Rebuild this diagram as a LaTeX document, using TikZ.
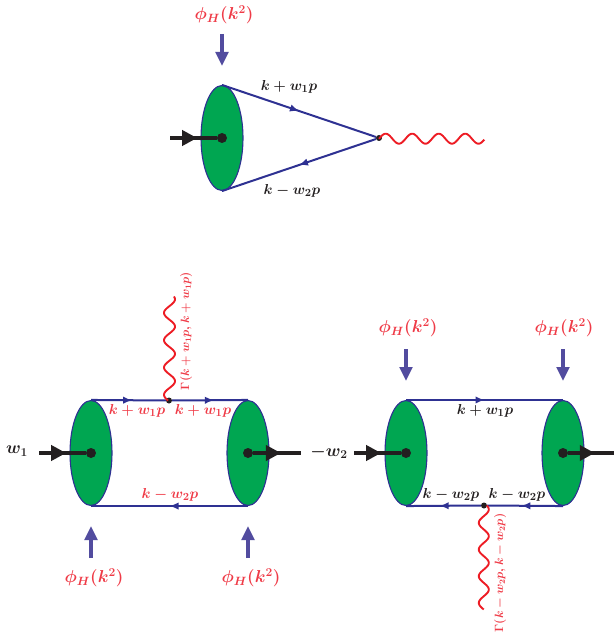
\documentclass[tikz,border=0pt]{standalone}
\usetikzlibrary{arrows.meta,decorations.markings,shapes.geometric}
\definecolor{dgreen}{HTML}{00A651}
\definecolor{dblue}{HTML}{2E3192}
\definecolor{dred}{HTML}{ED1C24}
\definecolor{tred}{HTML}{EF3B47}
\definecolor{dpurple}{HTML}{524C9F}
\definecolor{dblack}{HTML}{231F20}
\tikzset{
  blob/.style={ellipse,draw=dblue,line width=1.1pt,fill=dgreen,minimum width=42pt,minimum height=105pt,inner sep=0pt},
  fermion/.style={draw=dblue,line width=2pt},
  midtip/.style={postaction={decorate,decoration={markings,mark=at position #1 with {\arrow{Latex[length=9pt,width=7.5pt,color=dblue]}}}}},
  photon/.style={draw=dred,line width=1.9pt,line join=round},
  inflow/.style={draw=dblack,line width=4.6pt},
  blacktip/.style={postaction={decorate,decoration={markings,mark=at position #1 with {\arrow{Triangle[length=15pt,width=15pt,color=dblack]}}}}},
  phiarrow/.style={draw=dpurple,line width=4.2pt,-{Triangle[length=14pt,width=12.5pt,color=dpurple]}},
  dotb/.style={circle,fill=dblack,minimum size=10pt,inner sep=0pt},
  dots/.style={circle,fill=dblack,minimum size=6pt,inner sep=0pt},
  redtxt/.style={text=tred,font=\fontsize{15}{17}\selectfont\boldmath,inner sep=0pt},
  blktxt/.style={text=dblack,font=\fontsize{15}{17}\selectfont\boldmath,inner sep=0pt},
  phitxt/.style={text=tred,font=\fontsize{18}{20}\selectfont\boldmath,inner sep=0pt},
  wtxt/.style={text=dblack,font=\fontsize{18}{20}\selectfont\boldmath,inner sep=0pt},
  gamtxt/.style={text=tred,font=\fontsize{11.8}{13}\selectfont\boldmath,inner sep=0pt,rotate=90},
}
\begin{document}
\begin{tikzpicture}[x=1pt,y=-1pt]
\useasboundingbox (0,0) rectangle (614,639);
% top triangle
\node[blob] (e0) at (222,138) {};
\node[dots] (v0) at (379,138) {};
\node[dotb] (d0) at (222,138) {};
\coordinate (a0) at (170,138);
\draw[fermion,midtip=0.5] (e0.north) -- (v0);
\draw[fermion,midtip=0.5] (v0) -- (e0.south);
\draw[photon,shift={(v0)}] plot[domain=0:105.3,samples=110] ({\x},{0.7-5*cos(13.585*(\x-6.7))});
\draw[inflow,blacktip=0.58] (a0) -- (d0);
\coordinate (p0s) at (222,34);
\coordinate (p0e) at (222,66);
\draw[phiarrow] (p0s) -- (p0e);
\node[phitxt] (l0) at (224,15) {$\phi_H(k^2)$};
\node[blktxt] (l1) at (289,87) {$k+w_1p$};
\node[blktxt] (l2) at (292,190.5) {$k-w_2p$};
% bottom left
\node[blob] (e1) at (91,453) {};
\node[blob] (e2) at (248,453) {};
\node[dots] (v1) at (169,400.5) {};
\node[dotb] (d1) at (91,453) {};
\node[dotb] (d2) at (248,453) {};
\coordinate (a1) at (39,453);
\coordinate (a2) at (301,453);
\draw[fermion,midtip=0.55] (e1.north) -- (v1);
\draw[fermion,midtip=0.55] (v1) -- (e2.north);
\draw[fermion,midtip=0.5] (e2.south) -- (e1.south);
\draw[photon,shift={(v1)}] plot[domain=0:104,samples=110] ({0.5-5.5*cos(13.187*(\x-33))},{-\x});
\draw[inflow,blacktip=0.58] (a1) -- (d1);
\draw[inflow,blacktip=0.58] (d2) -- (a2);
\coordinate (p1s) at (91,558);
\coordinate (p1e) at (91,526);
\coordinate (p2s) at (248,558);
\coordinate (p2e) at (248,526);
\draw[phiarrow] (p1s) -- (p1e);
\draw[phiarrow] (p2s) -- (p2e);
\node[phitxt] (l3) at (94,578) {$\phi_H(k^2)$};
\node[phitxt] (l4) at (251,578) {$\phi_H(k^2)$};
\node[redtxt] (l5) at (137,411) {$k+w_1p$};
\node[redtxt] (l6) at (203,411) {$k+w_1p$};
\node[redtxt] (l7) at (170,495) {$k-w_2p$};
\node[gamtxt] (l8) at (186,331) {$\Gamma(k+w_1p,k+w_1p)$};
\node[wtxt] (l9) at (17,451) {$w_1$};
% bottom right
\node[blob] (e3) at (406,453) {};
\node[blob] (e4) at (563,453) {};
\node[dots] (v2) at (484,505.5) {};
\node[dotb] (d3) at (406,453) {};
\node[dotb] (d4) at (563,453) {};
\coordinate (a3) at (354,453);
\coordinate (a4) at (614,453);
\draw[fermion,midtip=0.5] (e3.north) -- (e4.north);
\draw[fermion,midtip=0.55] (e4.south) -- (v2);
\draw[fermion,midtip=0.55] (v2) -- (e3.south);
\draw[photon,shift={(v2)}] plot[domain=0:104,samples=110] ({-0.2-5*cos(13.483*(\x-17.3))},{\x});
\draw[inflow,blacktip=0.58] (a3) -- (d3);
\draw[inflow,blacktip=0.58] (d4) -- (a4);
\coordinate (p3s) at (406,349);
\coordinate (p3e) at (406,381);
\coordinate (p4s) at (563,349);
\coordinate (p4e) at (563,381);
\draw[phiarrow] (p3s) -- (p3e);
\draw[phiarrow] (p4s) -- (p4e);
\node[phitxt] (l10) at (408,328) {$\phi_H(k^2)$};
\node[phitxt] (l11) at (564,328) {$\phi_H(k^2)$};
\node[blktxt] (l12) at (485,411) {$k+w_1p$};
\node[blktxt] (l13) at (451,495) {$k-w_2p$};
\node[blktxt] (l14) at (517,495) {$k-w_2p$};
\node[gamtxt] (l15) at (500,573) {$\Gamma(k-w_2p,k-w_2p)$};
\node[wtxt] (l16) at (329,452) {$-w_2$};
\end{tikzpicture}
\end{document}
